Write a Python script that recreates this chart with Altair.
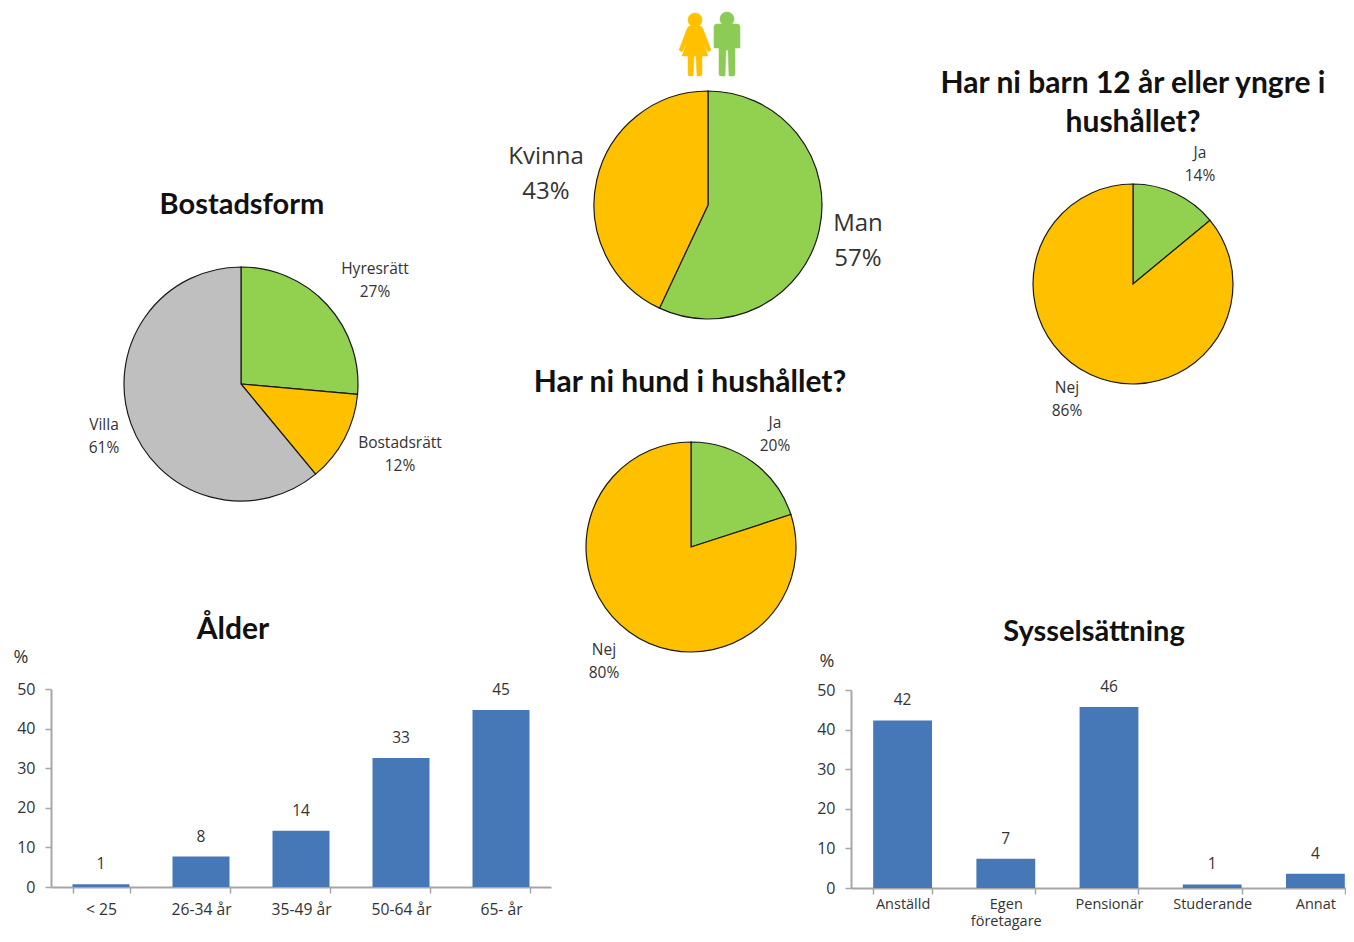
import altair as alt
import pandas as pd

GREEN, ORANGE, GREY = "#92D050", "#FFC000", "#BFBFBF"
BLUE = "#4678B8"
TXT = "#333333"
SANS = "Open Sans"
HEAD = "Lato"

# ---- values
bostad_cat = ["Hyresrätt", "Bostadsrätt", "Villa"]
bostad_val = [26.4, 12.6, 61.0]
bostad_pct = [27, 12, 61]
kon_cat = ["Man", "Kvinna"]
kon_val = [57, 43]
barn_cat = ["Ja", "Nej"]
barn_val = [14, 86]
hund_cat = ["Ja", "Nej"]
hund_val = [20, 80]
alder_cat = ["< 25", "26-34 år", "35-49 år", "50-64 år", "65- år"]
alder_val = [0.7, 7.7, 14.2, 32.6, 44.7]
alder_lab = [1, 8, 14, 33, 45]
syss_cat = ["Anställd", "Egen företagare", "Pensionär", "Studerande", "Annat"]
syss_val = [42.3, 7.4, 45.7, 0.9, 3.6]
syss_lab = [42, 7, 46, 1, 4]

M = 8  # page margin


def text(s, x, y, size, font=SANS, weight="normal", lh=None):
    kw = {"lineBreak": "\n"}
    if lh:
        kw["lineHeight"] = lh
    return alt.Chart(alt.Data(values=[{"t": s}])).mark_text(
        font=font, fontSize=size, fontWeight=weight, color=TXT if weight == "normal" else "#111111",
        align="center", baseline="middle", **kw
    ).encode(text="t:N", x=alt.value(x - M), y=alt.value(y - M))


def pie(cats, vals, cols, cx, cy, r):
    df = pd.DataFrame({"cat": cats, "v": vals, "col": cols, "i": range(len(cats))})
    return alt.Chart(df).mark_arc(outerRadius=r, stroke="#1a1a1a", strokeWidth=1.2).encode(
        theta=alt.Theta("v:Q", stack=True),
        color=alt.Color("col:N", scale=None),
        order=alt.Order("i:Q"),
        x=alt.value(cx - M),
        y=alt.value(cy - M),
    )


def bars(cats, vals, labs, x0, x1, y0, y1, axis_x, offset, pad, size):
    df = pd.DataFrame({"cat": cats, "v": vals, "lab": labs})
    xs = alt.Scale(domain=cats, range=[x0 - M, x1 - M], paddingInner=0.43, paddingOuter=0.215)
    ys = alt.Scale(domain=[0, 50], range=[y0 - M, y1 - M])
    xa = alt.Axis(
        orient="bottom", title=None, labelAngle=0, labelFont=SANS, labelFontSize=size, labelColor=TXT,
        domainColor="#A6A6A6", domainWidth=2, tickColor="#A6A6A6", tickWidth=1.5, tickSize=6,
        tickBand="extent", tickExtra=True, labelPadding=pad, offset=offset, labelLimit=200, labelLineHeight=17.5,
        labelExpr="datum.label == 'Egen företagare' ? ['Egen', 'företagare'] : datum.label",
    )
    ya = alt.Axis(
        orient="left", title=None, values=[0, 10, 20, 30, 40, 50], grid=False, labelFont=SANS, labelFontSize=16,
        labelColor=TXT, domainColor="#A6A6A6", domainWidth=2, tickColor="#A6A6A6", tickWidth=1.5, tickSize=6,
        labelPadding=10, offset=-(axis_x - M),
    )
    b = alt.Chart(df).mark_bar(color=BLUE).encode(
        x=alt.X("cat:N", sort=cats, scale=xs, axis=xa),
        y=alt.Y("v:Q", scale=ys, axis=ya),
    )
    t = alt.Chart(df).mark_text(font=SANS, fontSize=15.5, color=TXT, dy=-20, baseline="middle").encode(
        x=alt.X("cat:N", sort=cats, scale=xs, axis=xa),
        y=alt.Y("v:Q", scale=ys, axis=ya),
        text="lab:N",
    )
    return alt.layer(b, t)


WOMAN = ("M-5 -5 L5 -5 Q7 -5 8 -2 L16 19 L13 21 L8 11 L13 25 L7 25 L7 43 Q7 45 5 45 L2 45 L1 25 L-1 25 L-2 45 "
         "L-5 45 Q-7 45 -7 43 L-7 25 L-13 25 L-8 11 L-13 21 L-16 19 L-8 -2 Q-7 -5 -5 -5 Z "
         "M7 -11 A7 7 0 1 1 -7 -11 A7 7 0 1 1 7 -11 Z")
MAN = ("M-10 -7 L10 -7 Q13 -7 13 -4 L13 17 L8 17 L8 43 Q8 45 6 45 L2 45 L1 19 L-1 19 L-2 45 "
       "L-6 45 Q-8 45 -8 43 L-8 17 L-13 17 L-13 -4 Q-13 -7 -10 -7 Z "
       "M7 -12 A7 7 0 1 1 -7 -12 A7 7 0 1 1 7 -12 Z")


def icon(path, col, x, y):
    return alt.Chart(alt.Data(values=[{"a": 1}])).mark_point(
        shape=path, size=4, filled=True, fill=col, stroke=col, strokeWidth=0.5, opacity=1
    ).encode(x=alt.value(x - M), y=alt.value(y - M))


def lab(cat, pct):
    return f"{cat}\n{pct}%"


layers = [
    pie(bostad_cat, bostad_val, [GREEN, ORANGE, GREY], 241, 384, 117),
    pie(kon_cat, kon_val, [GREEN, ORANGE], 708, 205, 114),
    pie(barn_cat, barn_val, [GREEN, ORANGE], 1133, 284, 100),
    pie(hund_cat, hund_val, [GREEN, ORANGE], 691, 547, 105),
    bars(alder_cat, alder_val, alder_lab, 51, 551, 887, 689, 51, 0, 9, 15.7),
    bars(syss_cat, syss_val, syss_lab, 851, 1367, 888, 690, 851, 1, 3, 14.5),
    icon(WOMAN, ORANGE, 695, 31),
    icon(MAN, "#8CCB55", 727, 31),
    text("Bostadsform", 242, 205, 29, HEAD, "bold"),
    text("Har ni hund i hushållet?", 690, 383, 30, HEAD, "bold"),
    text("Har ni barn 12 år eller yngre i\nhushållet?", 1133, 84, 30, HEAD, "bold", 39),
    text("Ålder", 233, 630, 30, HEAD, "bold"),
    text("Sysselsättning", 1094, 632, 29, HEAD, "bold"),
    text(lab(bostad_cat[0], bostad_pct[0]), 375, 269, 15.5, lh=22.5),
    text(lab(bostad_cat[1], bostad_pct[1]), 400, 443, 15.5, lh=22.5),
    text(lab(bostad_cat[2], bostad_pct[2]), 104, 425, 15.5, lh=22.5),
    text(lab(kon_cat[1], kon_val[1]), 546, 157, 24, lh=35),
    text(lab(kon_cat[0], kon_val[0]), 858, 224, 24, lh=35),
    text(lab(barn_cat[0], barn_val[0]), 1200, 153, 15.5, lh=22.5),
    text(lab(barn_cat[1], barn_val[1]), 1067, 388, 15.5, lh=22.5),
    text(lab(hund_cat[0], hund_val[0]), 775, 423, 15.5, lh=22.5),
    text(lab(hund_cat[1], hund_val[1]), 604, 650, 15.5, lh=22.5),
    text("%", 21, 658, 18),
    text("%", 827, 662, 18),
]

chart = (
    alt.layer(*layers)
    .resolve_scale(x="independent", y="independent", theta="independent")
    .resolve_axis(x="independent", y="independent")
    .properties(width=1338, height=879, autosize=alt.AutoSizeParams(type="none"), padding={"left": 0, "top": 0, "right": 0, "bottom": 43}, background="white")
    .configure_view(stroke=None)
)
chart.save("out.html", embed_options={"renderer": "svg", "actions": False})
